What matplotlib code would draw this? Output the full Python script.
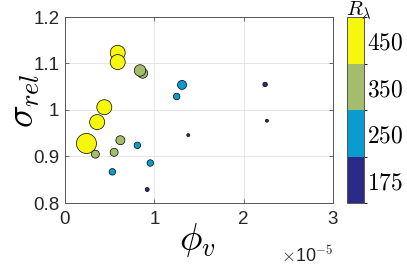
import matplotlib
matplotlib.use("Agg")
import matplotlib.pyplot as plt
from matplotlib.colors import ListedColormap, BoundaryNorm
import numpy as np

# data (phi_v in units of 1e-5)
phi_v = [0.24, 0.36, 0.44, 0.59, 0.59,
         0.87, 0.84, 0.34, 0.55, 0.62,
         0.53, 0.81, 0.955, 1.25, 1.31,
         0.92, 1.38, 2.24, 2.26]
sigma_rel = [0.928, 0.974, 1.006, 1.123, 1.103,
             1.079, 1.085, 0.905, 0.909, 0.935,
             0.867, 0.924, 0.886, 1.029, 1.054,
             0.829, 0.946, 1.055, 0.977]
R_lambda = [450, 450, 450, 450, 450,
            350, 350, 350, 350, 350,
            250, 250, 250, 250, 250,
            175, 175, 175, 175]
marker_diam_px = [20, 15, 15, 15, 15,
                  10, 11.5, 8, 8, 9,
                  6.5, 6.5, 6.5, 6.5, 9,
                  4, 3, 4.5, 3]
cbar_labels = ["175", "250", "350", "450"]
level_values = [175, 250, 350, 450]

colors = ["#2c2a87", "#0a9bcf", "#a3bd6c", "#f7f70e"]
cmap = ListedColormap(colors)
bounds = [0, 1, 2, 3, 4]
norm = BoundaryNorm(bounds, cmap.N)
cidx = [level_values.index(r) + 0.5 for r in R_lambda]

plt.rcParams['mathtext.fontset'] = 'cm'
sans = ['Liberation Sans', 'DejaVu Sans']
W, H = 407, 265

fig = plt.figure(figsize=(4.07, 2.65), dpi=100)
ax = fig.add_axes([65/W, 1-203/H, (333-65)/W, (203-17)/H])
sizes = [(d*0.72)**2 for d in marker_diam_px]
ax.scatter(phi_v, sigma_rel, s=sizes, c=cidx, cmap=cmap, norm=norm,
           edgecolors='black', linewidths=0.5, zorder=3)
ax.set_xlim(0, 3)
ax.set_ylim(0.8, 1.2)
ax.set_xticks([0, 1, 2, 3])
ax.set_yticks([0.8, 0.9, 1.0, 1.1, 1.2])
ax.set_xticklabels(["0", "1", "2", "3"], family=sans, fontsize=13.5)
ax.set_yticklabels(["0.8", "0.9", "1", "1.1", "1.2"], family=sans, fontsize=13.5)
ax.grid(True, color='#e6e6e6', linewidth=0.7, zorder=0)
ax.set_axisbelow(True)
ax.tick_params(direction='in', length=3, width=0.6, color='#555555',
               top=True, right=True, labelcolor='#262626', pad=4)
ax.tick_params(axis='x', pad=6)
for sp in ax.spines.values():
    sp.set_color('#555555')
    sp.set_linewidth(0.7)
fig.text(197/W, 1-250/H, r'$\phi_v$', ha='center', va='baseline', fontsize=27)
fig.text(6/W, 1-101/H, r'$\sigma_{rel}$', ha='left', va='center', rotation=90, fontsize=27)
fig.text(333/W, 1-262/H, r'$\times$10$^{\mathsf{-5}}$', ha='right', va='baseline',
         fontsize=13, family=sans, color='#262626')

cax = fig.add_axes([347/W, 1-203/H, 17/W, (203-17)/H])
sm = matplotlib.cm.ScalarMappable(cmap=cmap, norm=norm)
cb = fig.colorbar(sm, cax=cax, ticks=[0.5, 1.5, 2.5, 3.5])
cb.ax.set_yticklabels([f'${t}$' for t in cbar_labels], fontsize=17)
cb.ax.tick_params(length=0, pad=2)
cb.outline.set_edgecolor('#555555')
cb.outline.set_linewidth(0.7)
fig.text(346/W, 1-16/H, r'$R_\lambda$', ha='left', va='baseline', fontsize=15)

fig.savefig('out.png', dpi=100)
